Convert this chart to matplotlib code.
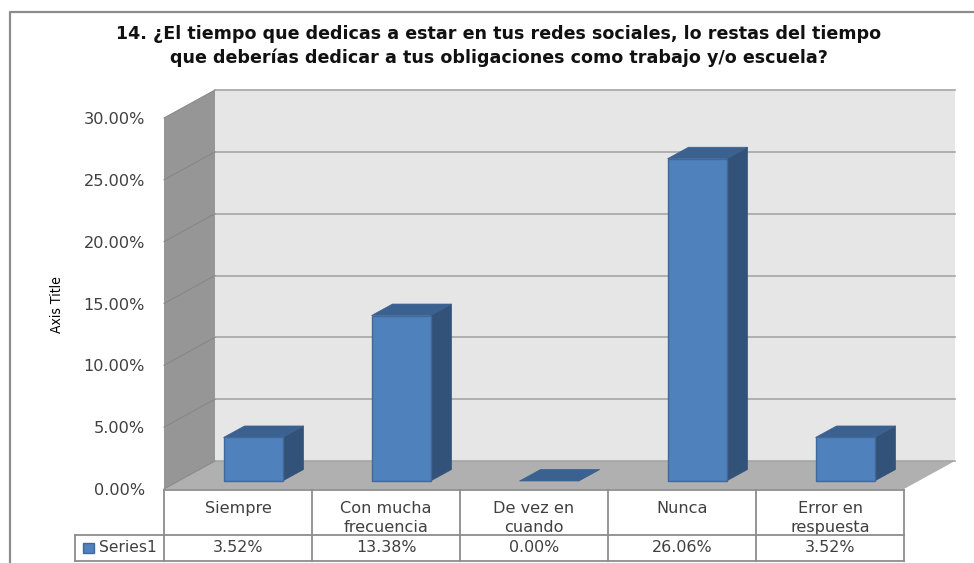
import matplotlib
matplotlib.use("Agg")
import matplotlib.pyplot as plt
from matplotlib.patches import Polygon, Rectangle

categories = ["Siempre", "Con mucha\nfrecuencia", "De vez en\ncuando", "Nunca", "Error en\nrespuesta"]
series_name = "Series1"
values = [3.52, 13.38, 0.00, 26.06, 3.52]
value_labels = ["3.52%", "13.38%", "0.00%", "26.06%", "3.52%"]
y_ticks = [0, 5, 10, 15, 20, 25, 30]
title = ("14. ¿El tiempo que dedicas a estar en tus redes sociales, lo restas del tiempo\n"
         "que deberías dedicar a tus obligaciones como trabajo y/o escuela?")

W, H = 974, 563
fig = plt.figure(figsize=(W / 100, H / 100), dpi=100, facecolor="white")

# axes = front plane of the 3-D box
L, R, T, B = 164, 904, 118, 489
ax = fig.add_axes([L / W, 1 - B / H, (R - L) / W, (B - T) / H])
ax.set_xlim(0, 5)
ax.set_ylim(0, 30)
ax.axis("off")
ux = (R - L) / 5      # px per category
uy = (B - T) / 30     # px per percent

def X(px): return px / ux
def Y(px): return px / uy

ddx, ddy = X(51), Y(28)
GRID = "#a6a6a6"
TXT = "#404040"
kw = dict(clip_on=False)

# outer chart frame (figure pixel coordinates)
fig.add_artist(plt.Line2D([10 / W, 10 / W, 974 / W], [0, 1 - 11.5 / H, 1 - 11.5 / H],
                          color="#8c8c8c", lw=1.6, transform=fig.transFigure))

# back wall, side wall, floor
ax.add_patch(Polygon([(ddx, ddy), (5 + ddx, ddy), (5 + ddx, 30 + ddy), (ddx, 30 + ddy)],
                     fc="#e6e6e6", ec="none", zorder=1, **kw))
ax.add_patch(Polygon([(0, 0), (ddx, ddy), (ddx, 30 + ddy), (0, 30)],
                     fc="#969696", ec="none", zorder=1, **kw))
ax.add_patch(Polygon([(0, 0), (5, 0), (5 + ddx, ddy), (ddx, ddy)],
                     fc="#b0b0b0", ec="none", zorder=1, **kw))
for t in y_ticks:
    ax.plot([ddx, 5 + ddx], [t + ddy, t + ddy], color=GRID, lw=1.2, zorder=2, **kw)
    ax.plot([0, ddx], [t, t + ddy], color="#858585", lw=0.7, zorder=2, **kw)
    ax.text(X(-19), t - Y(1.5), f"{t:.2f}%", ha="right", va="center", fontsize=11.6,
            color=TXT, zorder=5, **kw)

# 3-D bars
bw = X(59)
ox, oy = X(15), Y(8)
bdx, bdy = X(21), Y(11.5)
FRONT, TOP, SIDE = "#4f81bd", "#3b6190", "#32527a"
for i, v in enumerate(values):
    x0 = i + 0.5 + ox - bw / 2
    x1 = x0 + bw
    y0 = oy
    y1 = oy + v
    ax.add_patch(Polygon([(x1, y0), (x1 + bdx, y0 + bdy), (x1 + bdx, y1 + bdy), (x1, y1)],
                         fc=SIDE, ec=SIDE, lw=0.5, zorder=3, **kw))
    ax.add_patch(Polygon([(x0, y1), (x1, y1), (x1 + bdx, y1 + bdy), (x0 + bdx, y1 + bdy)],
                         fc=TOP, ec=TOP, lw=0.5, zorder=3, **kw))
    if v > 0:
        ax.add_patch(Rectangle((x0, y0), bw, v, fc=FRONT, ec="#41689a", lw=1, zorder=4, **kw))

# data table
top, row1, row2 = Y(1), Y(46), Y(72)     # px below the axis
TBL = "#8c8c8c"
tl = dict(color=TBL, lw=1.3, zorder=5, **kw)
ax.plot([0, 5], [-top, -top], **tl)
ax.plot([X(-89), 5], [-row1, -row1], **tl)
ax.plot([X(-89), 5], [-row2, -row2], **tl)
ax.plot([X(-89), X(-89)], [-row1, -row2], **tl)
for i in range(6):
    ax.plot([i, i], [-top, -row2], **tl)
for i, (c, s) in enumerate(zip(categories, value_labels)):
    ax.text(i + 0.5, -Y(12), c, ha="center", va="top", fontsize=11.6,
            color=TXT, linespacing=1.3, **kw)
    ax.text(i + 0.5, -(row1 + row2) / 2, s, ha="center", va="center", fontsize=11.4,
            color=TXT, **kw)
ax.add_patch(Rectangle((X(-81), -row1 - Y(17.5)), X(11), Y(9.5), fc=FRONT, ec="#41689a", lw=1, zorder=6, **kw))
ax.text(X(-65), -(row1 + row2) / 2, series_name, ha="left", va="center", fontsize=11.2,
        color=TXT, **kw)

fig.text(498.5 / W, 1 - 46 / H, title, ha="center", va="center", fontsize=12.65,
         fontweight="bold", color="#111111", linespacing=1.44)
fig.text(57 / W, 1 - 304.5 / H, "Axis Title", rotation=90, ha="center", va="center",
         fontsize=10, family="DejaVu Sans", stretch="condensed", color="#000000")

fig.savefig("out.png", dpi=100)
